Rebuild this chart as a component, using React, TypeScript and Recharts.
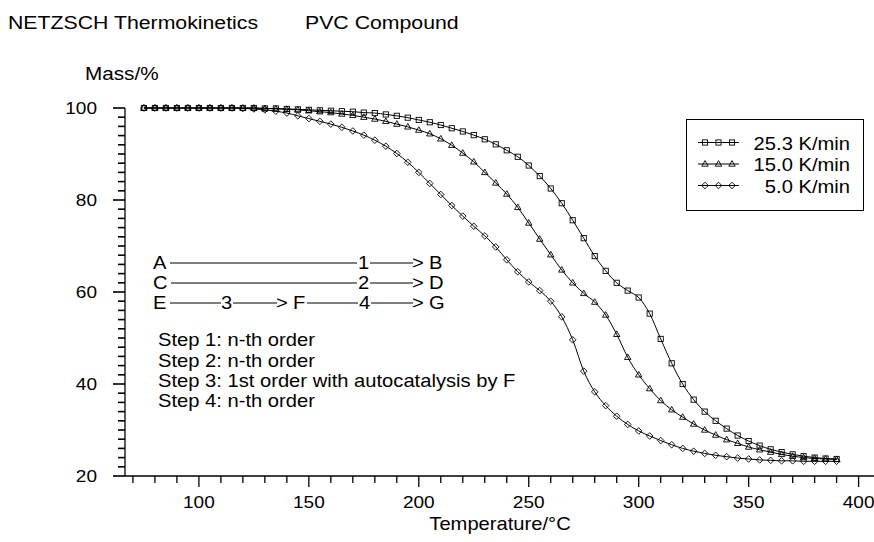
import React from 'react';
import { LineChart, Line, XAxis, YAxis, Legend } from 'recharts';

const temperatures = [
  75, 80, 85, 90, 95, 100, 105, 110, 115, 120, 125, 130, 135, 140, 145, 150,
  155, 160, 165, 170, 175, 180, 185, 190, 195, 200, 205, 210, 215, 220, 225, 230,
  235, 240, 245, 250, 255, 260, 265, 270, 275, 280, 285, 290, 295, 300, 305, 310,
  315, 320, 325, 330, 335, 340, 345, 350, 355, 360, 365, 370, 375, 380, 385, 390,
];

const mass25 = [
  100, 100, 100, 100, 100, 100, 100, 100, 100, 100, 100, 99.9, 99.9, 99.8, 99.7, 99.6,
  99.5, 99.4, 99.3, 99.2, 99.0, 98.9, 98.6, 98.3, 97.9, 97.4, 96.9, 96.3, 95.6, 94.9, 94.1, 93.2,
  92.1, 90.8, 89.4, 87.5, 85.2, 82.5, 79.3, 75.6, 71.7, 67.8, 64.6, 62.0, 60.3, 58.8, 55.3, 49.8,
  44.5, 40.0, 36.6, 34.0, 32.0, 30.3, 28.8, 27.6, 26.6, 25.8, 25.2, 24.7, 24.3, 24.0, 23.8, 23.7,
];

const mass15 = [
  100, 100, 100, 100, 100, 100, 100, 100, 100, 100, 100, 99.9, 99.8, 99.7, 99.6, 99.4,
  99.2, 99.0, 98.7, 98.4, 98.0, 97.6, 97.1, 96.5, 95.9, 95.2, 94.4, 93.3, 91.9, 90.2, 88.3, 86.0,
  83.7, 81.3, 78.4, 75.0, 71.5, 68.1, 64.8, 62.0, 59.7, 57.8, 55.0, 50.8, 45.8, 42.0, 39.0, 36.4,
  34.4, 32.8, 31.3, 30.0, 28.9, 27.9, 27.1, 26.3, 25.7, 25.2, 24.7, 24.3, 24.0, 23.8, 23.7, 23.6,
];

const mass5 = [
  100, 100, 100, 100, 100, 100, 100, 100, 100, 99.9, 99.8, 99.6, 99.3, 98.9, 98.3, 97.7,
  97.1, 96.5, 95.8, 95.0, 94.1, 93.0, 91.7, 90.1, 88.2, 86.0, 83.6, 81.2, 78.8, 76.5, 74.3, 72.2,
  69.8, 67.0, 64.4, 62.2, 60.3, 58.0, 54.6, 49.6, 42.8, 38.3, 35.3, 33.0, 31.2, 29.8, 28.7, 27.7,
  26.8, 26.0, 25.4, 24.9, 24.5, 24.2, 23.9, 23.7, 23.5, 23.4, 23.3, 23.3, 23.2, 23.2, 23.2, 23.2,
];

const seriesNames = ['25.3 K/min', '15.0 K/min', '5.0 K/min'];
const xTicks = [70, 80, 90, 100, 110, 120, 130, 140, 150, 160, 170, 180, 190, 200, 210, 220, 230, 240, 250,
  260, 270, 280, 290, 300, 310, 320, 330, 340, 350, 360, 370, 380, 390, 400];
const yTicks = [20, 22, 24, 26, 28, 30, 32, 34, 36, 38, 40, 42, 44, 46, 48, 50, 52, 54, 56, 58, 60,
  62, 64, 66, 68, 70, 72, 74, 76, 78, 80, 82, 84, 86, 88, 90, 92, 94, 96, 98, 100];

const data = temperatures.map((t, i) => ({ t, s25: mass25[i], s15: mass15[i], s5: mass5[i] }));

const FONT = '"Liberation Sans", Arial, Helvetica, sans-serif';
const SX = 1.12;

function Txt({ x, y, size = 18, anchor = 'start', children }: any) {
  return (
    <text
      transform={`translate(${x},${y}) scale(${SX},1)`}
      fontSize={size}
      fontFamily={FONT}
      textAnchor={anchor}
      fill="#000"
    >
      {children}
    </text>
  );
}

const squareShape = (cx: number, cy: number, key?: any) => (
  <rect key={key} x={cx - 2.6} y={cy - 2.6} width={5.2} height={5.2} fill="none" stroke="#000" strokeWidth={0.9} />
);
const triangleShape = (cx: number, cy: number, key?: any) => (
  <path key={key} d={`M${cx},${cy - 3.4} L${cx + 3.2},${cy + 2.2} L${cx - 3.2},${cy + 2.2} Z`} fill="none" stroke="#000" strokeWidth={0.9} />
);
const diamondShape = (cx: number, cy: number, key?: any) => (
  <path key={key} d={`M${cx},${cy - 3.3} L${cx + 3.3},${cy} L${cx},${cy + 3.3} L${cx - 3.3},${cy} Z`} fill="none" stroke="#000" strokeWidth={0.9} />
);
const shapes = [squareShape, triangleShape, diamondShape];

const makeDot = (shape: any) => (props: any) => {
  const { cx, cy, index } = props;
  if (cx == null || cy == null) return <g key={`e-${index}`} />;
  return shape(cx, cy, `d-${index}`);
};

const XTick = (props: any) => {
  const { x, y, payload } = props;
  const v = payload.value;
  const major = v % 50 === 0;
  return (
    <g>
      <line x1={x} y1={y} x2={x} y2={y + (major ? 11 : 7)} stroke="#000" strokeWidth={1.3} />
      {major && v >= 100 ? <Txt x={x} y={y + 32} size={17} anchor="middle">{v}</Txt> : null}
    </g>
  );
};

// filled bars for the tick marks (x is the axis position since tickSize/tickMargin are 0)
const YTick = (props: any) => {
  const x = Number(props.x);
  const y = Number(props.y);
  const v = props.payload.value;
  const major = v % 20 === 0;
  const len = major ? 12 : 7;
  return (
    <g>
      <rect x={x - len} y={y - 0.8} width={len} height={1.6} fill="#000" />
      {major ? <Txt x={x - 28} y={y + 6} size={17} anchor="end">{v}</Txt> : null}
    </g>
  );
};

const renderLegend = () => {
  const rowsY = [23.5, 45, 66.5];
  return (
    <svg width={178} height={92} style={{ display: 'block' }}>
      <rect x={0.5} y={0.5} width={177} height={91} fill="#fff" stroke="#000" strokeWidth={1} />
      {seriesNames.map((name, i) => (
        <g key={name}>
          <line x1={12} y1={rowsY[i]} x2={53} y2={rowsY[i]} stroke="#000" strokeWidth={1} />
          {shapes[i](19, rowsY[i])}
          {shapes[i](32.5, rowsY[i])}
          {shapes[i](46, rowsY[i])}
          <Txt x={164} y={rowsY[i] + 7} size={18} anchor="end">{name}</Txt>
        </g>
      ))}
    </svg>
  );
};

function Annotations() {
  const L = (x1: number, x2: number, y: number) => (
    <line x1={x1} y1={y} x2={x2} y2={y} stroke="#000" strokeWidth={1} />
  );
  return (
    <svg width={874} height={542} style={{ position: 'absolute', left: 0, top: 0, pointerEvents: 'none' }}>
      <Txt x={8} y={29} size={19}>NETZSCH Thermokinetics</Txt>
      <Txt x={305} y={29} size={19}>PVC Compound</Txt>
      <Txt x={85} y={80} size={18.5}>Mass/%</Txt>
      <Txt x={500} y={530} size={18} anchor="middle">Temperature/°C</Txt>

      <Txt x={153} y={269} size={18}>A</Txt>
      {L(170, 357, 263)}
      <Txt x={358} y={269} size={18}>1</Txt>
      {L(370, 413, 263)}
      <Txt x={412} y={269} size={18}>{'>'}</Txt>
      <Txt x={429} y={269} size={18}>B</Txt>

      <Txt x={153} y={289} size={18}>C</Txt>
      {L(171, 357, 283)}
      <Txt x={358} y={289} size={18}>2</Txt>
      {L(370, 413, 283)}
      <Txt x={412} y={289} size={18}>{'>'}</Txt>
      <Txt x={429} y={289} size={18}>D</Txt>

      <Txt x={153} y={309} size={18}>E</Txt>
      {L(170, 221, 303)}
      <Txt x={221} y={309} size={18}>3</Txt>
      {L(233, 277, 303)}
      <Txt x={276} y={309} size={18}>{'>'}</Txt>
      <Txt x={293} y={309} size={18}>F</Txt>
      {L(307, 358, 303)}
      <Txt x={359} y={309} size={18}>4</Txt>
      {L(371, 413, 303)}
      <Txt x={412} y={309} size={18}>{'>'}</Txt>
      <Txt x={429} y={309} size={18}>G</Txt>

      <Txt x={158} y={346} size={18}>Step 1: n-th order</Txt>
      <Txt x={158} y={367} size={18}>Step 2: n-th order</Txt>
      <Txt x={158} y={387} size={18}>Step 3: 1st order with autocatalysis by F</Txt>
      <Txt x={158} y={407} size={18}>Step 4: n-th order</Txt>
    </svg>
  );
}

export default function App() {
  return (
    <div style={{ position: 'absolute', left: 0, top: 0, width: 874, height: 542, background: '#fff' }}>
      <LineChart width={874} height={542} data={data} margin={{ top: 108, right: 0, bottom: 26, left: 65 }}>
        <XAxis
          dataKey="t"
          type="number"
          domain={[66.4, 407]}
          allowDataOverflow
          ticks={xTicks}
          interval={0}
          height={40}
          tickSize={0}
          tickMargin={0}
          tickLine={false}
          tick={<XTick />}
          axisLine={{ stroke: '#000', strokeWidth: 1.3 }}
        />
        <YAxis
          type="number"
          domain={[20, 100]}
          ticks={yTicks}
          interval={0}
          width={60}
          tickSize={0}
          tickMargin={0}
          tickLine={false}
          tick={<YTick />}
          axisLine={{ stroke: '#000', strokeWidth: 1.3 }}
        />
        <Legend
          layout="vertical"
          align="center"
          verticalAlign="middle"
          content={renderLegend}
          wrapperStyle={{ position: 'absolute', left: 686, top: 119, width: 178, height: 92 }}
        />
        <Line dataKey="s25" name={seriesNames[0]} type="monotone" stroke="#000" strokeWidth={1}
          dot={makeDot(squareShape)} activeDot={false} isAnimationActive={false} legendType="square" />
        <Line dataKey="s15" name={seriesNames[1]} type="monotone" stroke="#000" strokeWidth={1}
          dot={makeDot(triangleShape)} activeDot={false} isAnimationActive={false} legendType="triangle" />
        <Line dataKey="s5" name={seriesNames[2]} type="monotone" stroke="#000" strokeWidth={1}
          dot={makeDot(diamondShape)} activeDot={false} isAnimationActive={false} legendType="diamond" />
      </LineChart>
      <Annotations />
    </div>
  );
}
